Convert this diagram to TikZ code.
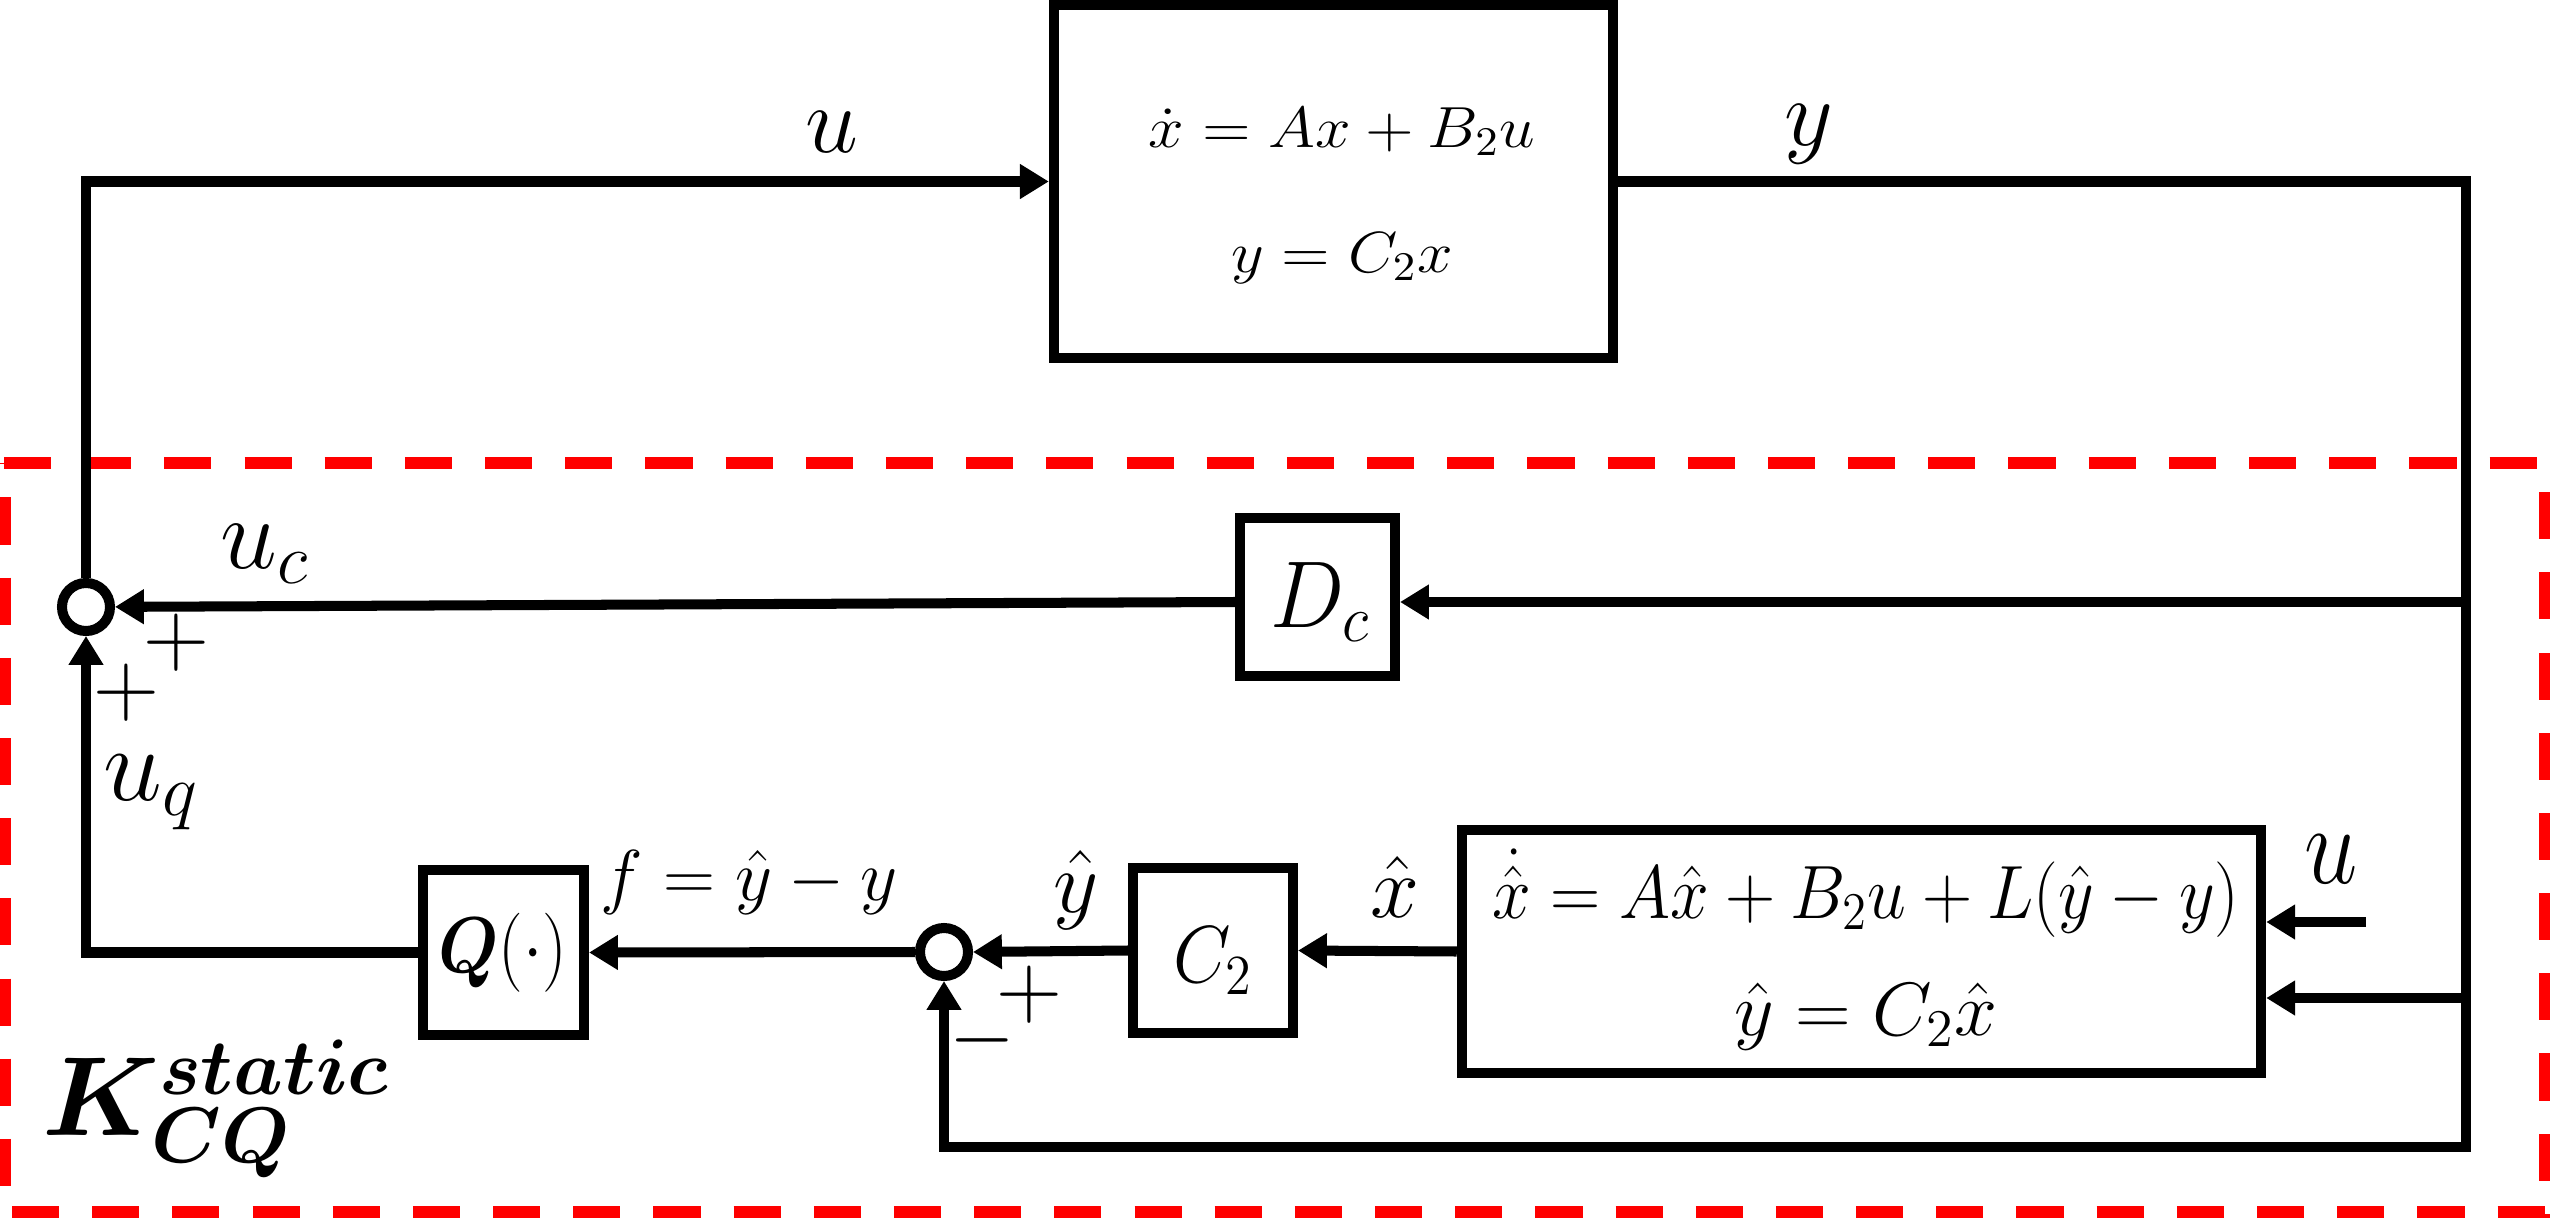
\RequirePackage{fix-cm}
\documentclass[tikz,border=0pt]{standalone}
\usepackage{amsmath}
\usepackage{bm}
\usetikzlibrary{arrows.meta}
\newcommand{\fsz}[1]{\fontsize{#1}{#1}\selectfont}
\begin{document}
\begin{tikzpicture}[x=0.01cm,y=-0.01cm,
  wire/.style={line width=2.85pt},
  arr/.style={line width=2.85pt, -{Triangle[length=8.2pt,width=9.4pt]}},
  blk/.style={draw, line width=2.85pt, inner sep=0pt},
  sumc/.style={draw, circle, line width=2.85pt, minimum size=0.48cm, inner sep=0pt},
  txt/.style={inner sep=0pt, outer sep=0pt},
  reddash/.style={draw=red, line width=3.5pt, dash pattern=on 13.4pt off 9.4pt}]
\useasboundingbox (0,0) rectangle (2550,1218);
% red dashed frame
\draw[reddash] (4,463) -- (2550,463);
\draw[reddash, dash phase=13.0pt] (5,463) -- (5,1218);
\draw[reddash, dash phase=14.5pt] (2545,463) -- (2545,1218);
\draw[reddash] (12,1212) -- (2550,1212);
% blocks
\node[blk, minimum width=5.59cm, minimum height=3.53cm] (plant) at (1333.5,181.5) {};
\node[blk, minimum width=1.55cm, minimum height=1.58cm] (dc) at (1317.5,597) {};
\node[blk, minimum width=7.99cm, minimum height=2.43cm] (obs) at (1861.5,951.5) {};
\node[blk, minimum width=1.60cm, minimum height=1.65cm] (c2) at (1213,950.5) {};
\node[blk, minimum width=1.61cm, minimum height=1.65cm] (q) at (503.5,952.5) {};
\node[sumc] (s1) at (86,607) {};
\node[sumc] (s2) at (944,952) {};
% coordinates
\coordinate (jdc) at (2466,602);
\coordinate (obsu) at (2366,922);
\coordinate (obsy) at (2466,998);
\coordinate (botr) at (2466,1147);
% connectors
\draw[arr] (s1.north) |- (plant.west);
\draw[arr] (plant.east) -| (botr) -| (s2.south);
\draw[arr] (jdc) -- (dc.east |- jdc);
\draw[arr] (dc.west |- jdc) -- (s1);
\draw[arr] (q.west) -| (s1.south);
\draw[arr] (s2.west) -- (q.east);
\draw[arr] (c2.west) -- (s2.east);
\draw[arr] (obs.west) -- (c2.east);
\draw[arr] (obsu) -- (obs.east |- obsu);
\draw[arr] (obsy) -- (obs.east |- obsy);
% block texts
\node[txt, anchor=base] (pl1) at (1342,147) {\fsz{16.5}\scalebox{1.1}[1]{$\dot{x}=Ax+B_2u$}};
\node[txt, anchor=base] (pl2) at (1342,272) {\fsz{16.5}\scalebox{1.1}[1]{$y=C_2x$}};
\node[txt, anchor=base] (ob1) at (1866,918) {\fsz{21.5}\scalebox{0.92}[1]{$\dot{\hat{x}}=A\hat{x}+B_2u+L(\hat{y}-y)$}};
\node[txt, anchor=base] (ob2) at (1866,1035) {\fsz{21.5}\scalebox{1.02}[1]{$\hat{y}=C_2\hat{x}$}};
\node[txt, anchor=base] (c2t) at (1213,982) {\fsz{23}\scalebox{0.92}[1]{$C_2$}};
\node[txt, anchor=base] (dct) at (1320,627) {\fsz{27}\scalebox{0.93}[1]{$D_c$}};
\node[txt, anchor=base] (qt) at (503,972) {\fsz{22.5}\scalebox{0.88}[1]{$\bm{Q}(\cdot)$}};
% signal labels
\node[txt, anchor=base] (lu) at (832,152) {\fsz{27}$u$};
\node[txt, anchor=base] (ly) at (1809,145) {\fsz{27}$y$};
\node[txt, anchor=base] (luc) at (265,568) {\fsz{29}$u_c$};
\node[txt, anchor=base] (luq) at (151,800) {\fsz{30}$u_q$};
\node[txt, anchor=base] (lf) at (749,900) {\fsz{20.5}$f=\hat{y}-y$};
\node[txt, anchor=base] (lyh) at (1076,912) {\fsz{25}$\hat{y}$};
\node[txt, anchor=base] (lxh) at (1395,917) {\fsz{25}$\hat{x}$};
\node[txt, anchor=base] (lou) at (2331,883) {\fsz{32}\scalebox{0.85}[1]{$u$}};
\node[txt, anchor=base west] (lk) at (42,1135) {\fsz{32}$\bm{K}_{\bm{CQ}}^{\bm{static}}$};
% signs
\node[txt] (p1) at (176,643) {\fsz{26}$+$};
\node[txt] (p2) at (126,693) {\fsz{26}$+$};
\node[txt] (p3) at (1029,995) {\fsz{26}$+$};
\node[txt] (m1) at (982,1040) {\fsz{24}$-$};
\end{tikzpicture}
\end{document}
